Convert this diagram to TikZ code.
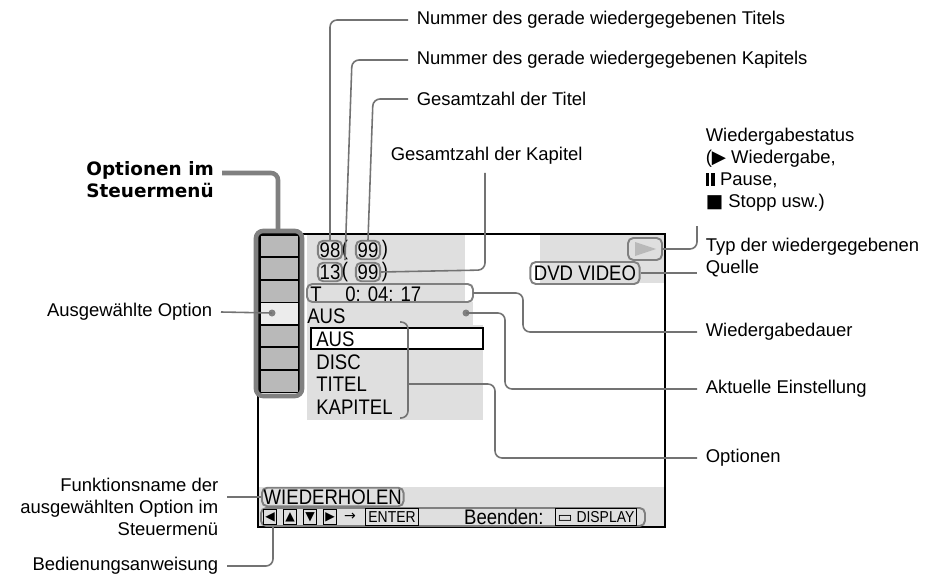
\documentclass[tikz,border=0pt]{standalone}
\usepackage{fontspec}
\setmainfont{Liberation Sans}
\newfontfamily\heavyfont{DejaVu Sans}
\newfontfamily\symfont{DejaVu Sans}
\newfontfamily\scrfont[FakeStretch=0.88]{Liberation Sans}
\usetikzlibrary{calc}
\tikzset{
  lbl/.style={font=\fontsize{10.5}{12.5}\selectfont, inner sep=0pt, outer xsep=5pt},
  scr/.style={font=\fontsize{12}{13}\selectfont\scrfont, inner sep=0pt},
  hl/.style={draw=gray, line width=1.1pt, rounded corners=3pt},
  lead/.style={draw=gray!90!black, line width=0.9pt, rounded corners=4pt},
  key/.style={draw, line width=0.5pt, inner sep=0.8pt, minimum height=9pt, font=\fontsize{7}{7}\selectfont\symfont},
}
\begin{document}
\begin{tikzpicture}[x=0.02cm, y=-0.02cm]
    \useasboundingbox (0,0) rectangle (937,581);
    % screen background
    \fill[gray!25] (307,235) rectangle (465,302);
    \fill[gray!25] (307,302) rectangle (473,325);
    \fill[gray!25] (307,325) rectangle (483,420);
    \fill[gray!25] (540,235) rectangle (665,283);
    \fill[gray!25] (258,487) rectangle (665,527);
    \draw[line width=1.2pt] (258,234) rectangle (665,527);
    % menu column
    \foreach \y in {235,257,280,325,347,370} {
        \filldraw[fill=gray!55, draw=black, line width=0.7pt] (260,\y) rectangle (299,\y+22.5);
    }
    \filldraw[fill=gray!15, draw=black, line width=0.7pt] (260,302.5) rectangle (299,325);
    \fill[gray] (272,313) circle (3.5) coordinate (seldot);
    \draw[draw=gray, line width=2.6pt, rounded corners=4pt] (256,231) rectangle (302,396);
    % numbers
    \node[scr, hl, inner sep=1pt] (ttl) at (330,250) {98};
    \node[scr] (p1) at (345,250) {(};
    \node[scr, hl, inner sep=1pt] (ttot) at (368,250) {99};
    \node[scr] at (385,250) {)};
    \node[scr, hl, inner sep=1pt] (chp) at (330,272) {13};
    \node[scr] at (345,272) {(};
    \node[scr, hl, inner sep=1pt] (ctot) at (368,272) {99};
    \node[scr] at (385,272) {)};
    \draw[hl] (307,284) rectangle (473,302);
    \coordinate (timee) at (473,293);
    \node[scr, anchor=west] at (310,294) {T};
    \node[scr, anchor=west] at (345,294) {0:\,\,04:\,\,17};
    \node[scr, anchor=west] at (307,316) {AUS};
    \fill[gray] (466,313) circle (3.5) coordinate (curdot);
    \filldraw[fill=white, draw=black, line width=0.8pt] (311,328) rectangle (483,349);
    \node[scr, anchor=west] at (316,339) {AUS};
    \node[scr, anchor=west] at (316,362) {DISC};
    \node[scr, anchor=west] at (316,384) {TITEL};
    \node[scr, anchor=west] at (316,407) {KAPITEL};
    \draw[lead] (400,322) -- (408,322) -- (408,418) -- (400,418);
    \coordinate (brace) at (408,384);
    \node[scr, hl, inner sep=2pt] (dvd) at (585,273) {DVD VIDEO};
    \draw[hl] (628,238) rectangle (662,260);
    \fill[gray!55] (635,242) -- (656,249) -- (635,256) -- cycle;
    \coordinate (play) at (662,249);
    \node[scr, hl, anchor=west, inner sep=1pt] (rep) at (261,497) {WIEDERHOLEN};
    % key row
    \draw[hl] (261,508) rectangle (645,526);
    \node[key] (k1) at (270,517) {◀};
    \node[key] (k2) at (290,517) {▲};
    \node[key] (k3) at (310,517) {▼};
    \node[key] (k4) at (330,517) {▶};
    \node[font=\fontsize{8}{8}\selectfont\symfont] at (350,517) {→};
    \node[key, font=\fontsize{9}{9}\selectfont\scrfont, inner sep=1.5pt] at (392,517) {ENTER};
    \node[scr, anchor=east] at (544,517) {Beenden:};
    \node[key, font=\fontsize{9}{9}\selectfont\scrfont, inner sep=1.5pt] at (596,517) {{\symfont ▭}\ DISPLAY};
    % labels
    \node[lbl, anchor=west] (l1) at (408,20) {Nummer des gerade wiedergegebenen Titels};
    \node[lbl, anchor=west] (l2) at (408,60) {Nummer des gerade wiedergegebenen Kapitels};
    \node[lbl, anchor=west] (l3) at (408,99) {Gesamtzahl der Titel};
    \node[lbl, anchor=west] (l4) at (382,156) {Gesamtzahl der Kapitel};
    \node[lbl, anchor=west, align=left] (l5) at (697,170) {Wiedergabestatus\\({\symfont ▶} Wiedergabe,\\\rule{2pt}{7.5pt}\hspace{1.2pt}\rule{2pt}{7.5pt} Pause,\\{\symfont ■} Stopp usw.)};
    \node[lbl, anchor=west, align=left] (l6) at (697,258) {Typ der wiedergegebenen\\Quelle};
    \node[lbl, anchor=west] (l7) at (697,332) {Wiedergabedauer};
    \node[lbl, anchor=west] (l8) at (697,389) {Aktuelle Einstellung};
    \node[lbl, anchor=west] (l9) at (697,458) {Optionen};
    \node[lbl, anchor=east] (l10) at (221,312) {Ausgewählte Option};
    \node[lbl, anchor=east, align=right] (l11) at (227,507) {Funktionsname der\\ausgewählten Option im\\Steuermenü};
    \node[lbl, anchor=east] (l12) at (227,566) {Bedienungsanweisung};
    \node[font=\fontsize{10.5}{12.5}\selectfont\heavyfont\bfseries, inner sep=0pt, anchor=west, align=left] (l13) at (86,180) {Optionen im\\Steuermenü};
    % leaders
    \draw[lead] (ttl.north) -- (330,20) -- (l1.west);
    \draw[lead] (p1.south) -- (352,60) -- (l2.west);
    \draw[lead] (ttot.north) -- (373,99) -- (l3.west);
    \draw[lead] (485,173) -- (485,270) -- (ctot.east);
    \draw[lead] (play) -- (697,249) -- (697,226);
    \draw[lead] (dvd.east) -- (l6.west |- dvd.east);
    \draw[lead] (timee) -- (523,293) -- (523,332) -- (l7.west);
    \draw[lead] (curdot) -- (505,313) -- (505,389) -- (l8.west);
    \draw[lead] (brace) -- (495,384) -- (495,458) -- (l9.west);
    \draw[lead] (l10.east) -- (seldot);
    \draw[lead] (l11.east |- rep.west) -- (rep.west);
    \draw[lead] (l12.east) -- (273,566) -- (273,527);
    \draw[draw=gray, line width=2.6pt, rounded corners=4pt] (222,173) -- (278,173) -- (278,231);
\end{tikzpicture}
\end{document}
